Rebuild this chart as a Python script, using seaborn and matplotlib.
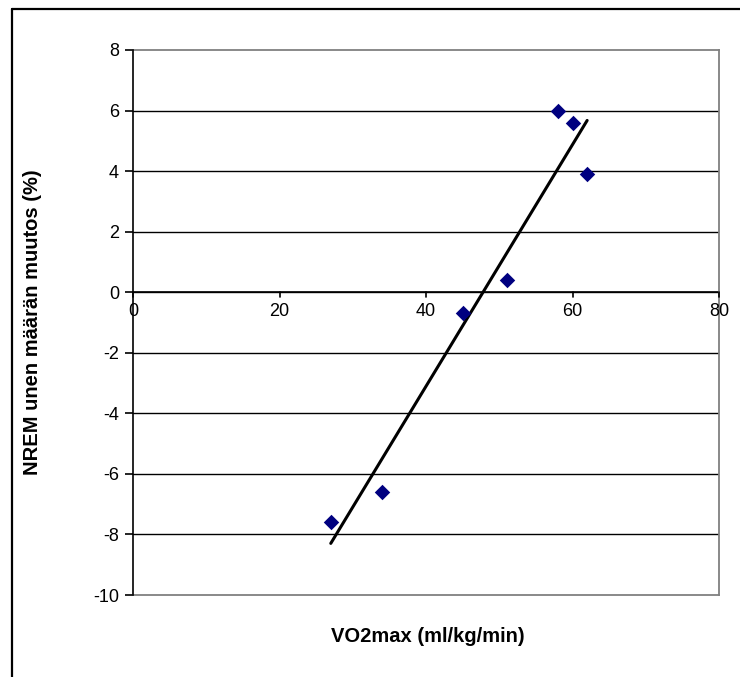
import matplotlib
matplotlib.use("Agg")
import matplotlib.pyplot as plt
import seaborn as sns
import pandas as pd
from matplotlib.lines import Line2D

# VO2max against change in NREM sleep amount
vo2max = [27, 34, 45, 51, 58, 60, 62]
nrem_change = [-7.6, -6.6, -0.7, 0.4, 6.0, 5.6, 3.9]
x_ticks = [0, 20, 40, 60, 80]
y_ticks = [-10, -8, -6, -4, -2, 0, 2, 4, 6, 8]

sns.set_theme(style="white")
plt.rcParams["font.family"] = ["Liberation Sans", "DejaVu Sans"]
plt.rcParams["axes.unicode_minus"] = False
plt.rcParams["text.color"] = "black"

df = pd.DataFrame({"vo2": vo2max, "nrem": nrem_change})

fig = plt.figure(figsize=(7.4, 6.77), dpi=100)
ax = fig.add_axes([133 / 740, 1 - 595 / 677, (719 - 133) / 740, (595 - 50) / 677])

sns.regplot(
    data=df, x="vo2", y="nrem", ax=ax, ci=None, truncate=True,
    marker="D",
    scatter_kws={"color": "#000080", "s": 62, "alpha": 1.0, "edgecolor": "#000080",
                 "linewidths": 0, "zorder": 4},
    line_kws={"color": "black", "linewidth": 2.2, "zorder": 3},
)

ax.set_xlim(0, 80)
ax.set_ylim(-10, 8)
ax.set_xticks(x_ticks)
ax.set_yticks(y_ticks)

# horizontal gridlines
for yv in y_ticks:
    if -10 < yv < 8:
        ax.axhline(yv, color="black", linewidth=1.0, zorder=1)

# plot area border
for side in ["top", "right", "bottom"]:
    ax.spines[side].set_visible(True)
    ax.spines[side].set_color("#808080")
    ax.spines[side].set_linewidth(1.3)
ax.spines["left"].set_color("black")
ax.spines["left"].set_linewidth(1.2)
ax.spines["left"].set_zorder(5)

# x axis drawn through y = 0
ax.axhline(0, color="black", linewidth=1.2, zorder=2)
ax.tick_params(axis="x", which="both", bottom=False, labelbottom=False)
for xv in x_ticks:
    ax.plot([xv, xv], [0, -0.16], color="black", linewidth=1.2, clip_on=False, zorder=5)
    ax.text(xv, -0.35, f"{xv}", ha="center", va="top", fontsize=13, color="black")

ax.tick_params(axis="y", which="both", left=True, direction="out", length=6, width=1.2,
               color="black", labelsize=13, pad=4, labelcolor="black")

ax.set_xlabel("")
ax.set_ylabel("")

fig.text(428 / 740, 1 - 637 / 677, "VO2max (ml/kg/min)", ha="center", va="center",
         fontsize=14.5, fontweight="bold", color="black")
fig.text(33 / 740, 1 - 322 / 677, "NREM unen määrän muutos (%)", ha="center", va="center",
         rotation=90, fontsize=14.5, fontweight="bold", color="black")

# outer chart frame (left and top edges)
fig.add_artist(Line2D([12 / 740, 12 / 740], [0, 1 - 9 / 677], transform=fig.transFigure,
                      color="black", linewidth=1.6))
fig.add_artist(Line2D([12 / 740, 1], [1 - 9 / 677, 1 - 9 / 677], transform=fig.transFigure,
                      color="black", linewidth=1.6))

fig.savefig("out.png", dpi=100, facecolor="white")
